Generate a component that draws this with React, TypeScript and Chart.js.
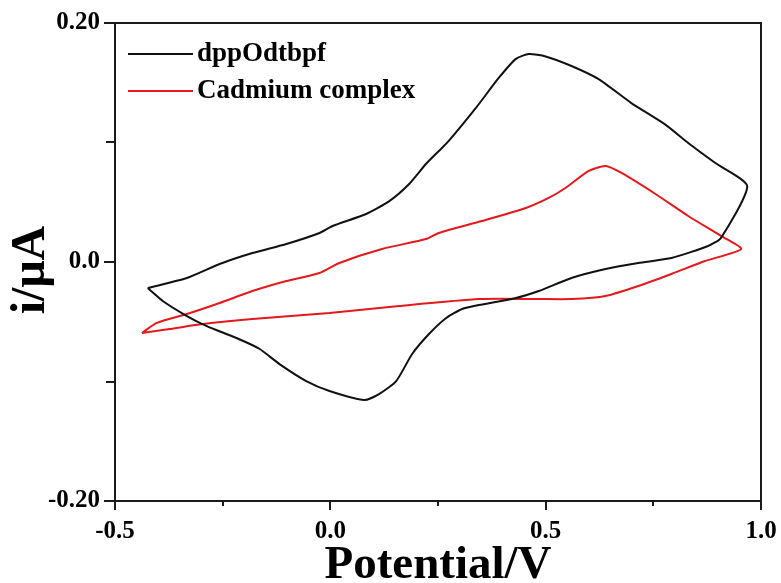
import React, { useEffect, useRef } from 'react';
import { Chart, registerables } from 'chart.js';

Chart.register(...registerables);

// Series names and colours
const seriesNames = ['dppOdtbpf', 'Cadmium complex'];
const seriesColors = ['#111111', '#e3191c'];
const yTitle = 'i/μA';
const xTitle = 'Potential/V';

// dppOdtbpf (black) cyclic voltammogram
const blackX = [
  -0.424, -0.333, -0.257, -0.181, -0.102, -0.025, 0.005, 0.083, 0.137, 0.183,
  0.222, 0.252, 0.275, 0.338, 0.391, 0.431, 0.461, 0.5, 0.56, 0.623,
  0.699, 0.778, 0.831, 0.894, 0.968, 0.907, 0.877, 0.792, 0.715, 0.639,
  0.56, 0.484, 0.431, 0.345, 0.306, 0.269, 0.229, 0.19, 0.153, 0.113,
  0.079, -0.002, -0.056, -0.118, -0.164, -0.218, -0.287, -0.333, -0.389, -0.424,
];
const blackY = [
  -0.0218, -0.0134, -0.0017, 0.0075, 0.0151, 0.0243, 0.0301, 0.0402, 0.051, 0.0653,
  0.082, 0.0929, 0.1013, 0.1289, 0.154, 0.17, 0.174, 0.172, 0.164, 0.153,
  0.133, 0.115, 0.0996, 0.0828, 0.0636, 0.0201, 0.0134, 0.0033, -0.0008, -0.0059,
  -0.0134, -0.0243, -0.0301, -0.036, -0.0393, -0.0469, -0.0603, -0.077, -0.0996, -0.1105,
  -0.1155, -0.1079, -0.0996, -0.0854, -0.0728, -0.0636, -0.0536, -0.0452, -0.0326, -0.0218,
];

// Cadmium complex (red) cyclic voltammogram
const redX = [
  -0.4375, -0.403, -0.333, -0.257, -0.181, -0.102, -0.025, 0.021, 0.12, 0.222,
  0.252, 0.352, 0.454, 0.507, 0.546, 0.6, 0.639, 0.676, 0.755, 0.831,
  0.907, 0.954, 0.87, 0.792, 0.715, 0.639, 0.56, 0.484, 0.345, 0.16,
  -0.002, -0.181, -0.296, -0.373, -0.4375,
];
const redY = [
  -0.0594, -0.051, -0.0435, -0.0343, -0.0243, -0.0159, -0.0092, -0.0008, 0.0109, 0.0192,
  0.0243, 0.0343, 0.0452, 0.0536, 0.0619, 0.0762, 0.0803, 0.0745, 0.0569, 0.0385,
  0.0218, 0.0109, 0.0008, -0.01, -0.0201, -0.0285, -0.031, -0.031, -0.031, -0.0368,
  -0.0427, -0.0477, -0.0519, -0.0561, -0.0594,
];

// Axis ticks
const xLabelTicks = [-0.5, 0.0, 0.5, 1.0];
const xMinorTicks = [-0.25, 0.25, 0.75];
const yAllTicks = [-0.2, -0.1, 0.0, 0.1, 0.2];
const yLabelTicks = [-0.2, 0.0, 0.2];

const FONT = '"Liberation Serif", "Times New Roman", serif';

const near = (a: number, list: number[]) => list.some((b) => Math.abs(a - b) < 1e-9);

const framePlugin = {
  id: 'frameTicks',
  afterDraw(chart: any) {
    const { ctx, chartArea } = chart;
    const xs = chart.scales.x;
    const ys = chart.scales.y;
    ctx.save();
    ctx.strokeStyle = '#1a1a1a';
    ctx.lineWidth = 2;
    ctx.strokeRect(chartArea.left, chartArea.top, chartArea.right - chartArea.left, chartArea.bottom - chartArea.top);
    ctx.beginPath();
    xLabelTicks.forEach((v) => {
      const px = Math.round(xs.getPixelForValue(v));
      ctx.moveTo(px, chartArea.bottom);
      ctx.lineTo(px, chartArea.bottom + 9);
    });
    xMinorTicks.forEach((v) => {
      const px = Math.round(xs.getPixelForValue(v));
      ctx.moveTo(px, chartArea.bottom);
      ctx.lineTo(px, chartArea.bottom + 5);
    });
    yAllTicks.forEach((v) => {
      const py = Math.round(ys.getPixelForValue(v));
      ctx.moveTo(chartArea.left, py);
      ctx.lineTo(chartArea.left - (near(v, yLabelTicks) ? 11 : 9), py);
    });
    ctx.stroke();

    // y axis title (rotated)
    ctx.save();
    ctx.translate(32, (chartArea.top + chartArea.bottom) / 2 + 8);
    ctx.rotate(-Math.PI / 2);
    ctx.font = `bold 48px ${FONT}`;
    ctx.fillStyle = '#000';
    ctx.textAlign = 'center';
    ctx.textBaseline = 'middle';
    ctx.fillText(yTitle, 0, 0);
    ctx.restore();

    // legend
    ctx.font = `bold 27px ${FONT}`;
    ctx.textBaseline = 'middle';
    ctx.textAlign = 'left';
    chart.data.datasets.forEach((ds: any, i: number) => {
      const y = chartArea.top + 31 + i * 37;
      ctx.strokeStyle = ds.borderColor;
      ctx.lineWidth = 2;
      ctx.beginPath();
      ctx.moveTo(chartArea.left + 13, y);
      ctx.lineTo(chartArea.left + 78, y);
      ctx.stroke();
      ctx.fillStyle = '#000';
      ctx.fillText(ds.label, chartArea.left + 82, y);
    });
    ctx.restore();
  },
};

export default function App() {
  const ref = useRef<HTMLCanvasElement | null>(null);
  useEffect(() => {
    if (!ref.current) return;
    const mk = (xs: number[], ys: number[]) => xs.map((x, i) => ({ x, y: ys[i] }));
    const chart = new Chart(ref.current, {
      type: 'line',
      data: {
        datasets: [
          {
            label: seriesNames[0],
            data: mk(blackX, blackY),
            borderColor: seriesColors[0],
            borderWidth: 2,
            pointRadius: 0,
            tension: 0.2,
            fill: false,
          },
          {
            label: seriesNames[1],
            data: mk(redX, redY),
            borderColor: seriesColors[1],
            borderWidth: 2,
            pointRadius: 0,
            tension: 0.2,
            fill: false,
          },
        ],
      },
      options: {
        animation: false,
        responsive: false,
        devicePixelRatio: 1,
        layout: { padding: { top: 23, right: 20, left: 0, bottom: 0 } },
        plugins: { legend: { display: false }, tooltip: { enabled: false } },
        scales: {
          x: {
            type: 'linear',
            min: -0.5,
            max: 1.0,
            afterFit: (s: any) => { s.height = 82; s.paddingLeft = 0; s.paddingRight = 0; },
            border: { display: false },
            grid: { display: true, drawOnChartArea: false, drawTicks: true, tickLength: 9, color: 'rgba(0,0,0,0)' },
            ticks: {
              stepSize: 0.25,
              padding: 7,
              color: '#000',
              maxRotation: 0,
              autoSkip: false,
              font: { family: FONT, size: 25, weight: 'bold' },
              callback: (v: any) => (near(Number(v), xLabelTicks) ? Number(v).toFixed(1) : ''),
            },
            title: {
              display: true,
              text: xTitle,
              color: '#000',
              font: { family: FONT, size: 47, weight: 'bold', lineHeight: 1 },
              padding: { top: 0, bottom: -6 },
            },
          },
          y: {
            type: 'linear',
            min: -0.2,
            max: 0.2,
            afterFit: (s: any) => { s.width = 115; s.paddingTop = 0; s.paddingBottom = 0; },
            border: { display: false },
            grid: { display: true, drawOnChartArea: false, drawTicks: true, tickLength: 11, color: 'rgba(0,0,0,0)' },
            ticks: {
              stepSize: 0.1,
              padding: 4,
              color: '#000',
              autoSkip: false,
              font: { family: FONT, size: 25, weight: 'bold' },
              callback: (v: any) => {
                const n = Number(v);
                if (!near(n, yLabelTicks)) return '';
                return Math.abs(n) < 1e-9 ? '0.0' : n.toFixed(2);
              },
            },
            title: { display: false },
          },
        },
      },
      plugins: [framePlugin],
    } as any);
    return () => chart.destroy();
  }, []);
  return (
    <div style={{ position: 'fixed', left: 0, top: 0, width: 781, height: 583, background: '#fff' }}>
      <canvas ref={ref} width={781} height={583} style={{ display: 'block' }} />
    </div>
  );
}
